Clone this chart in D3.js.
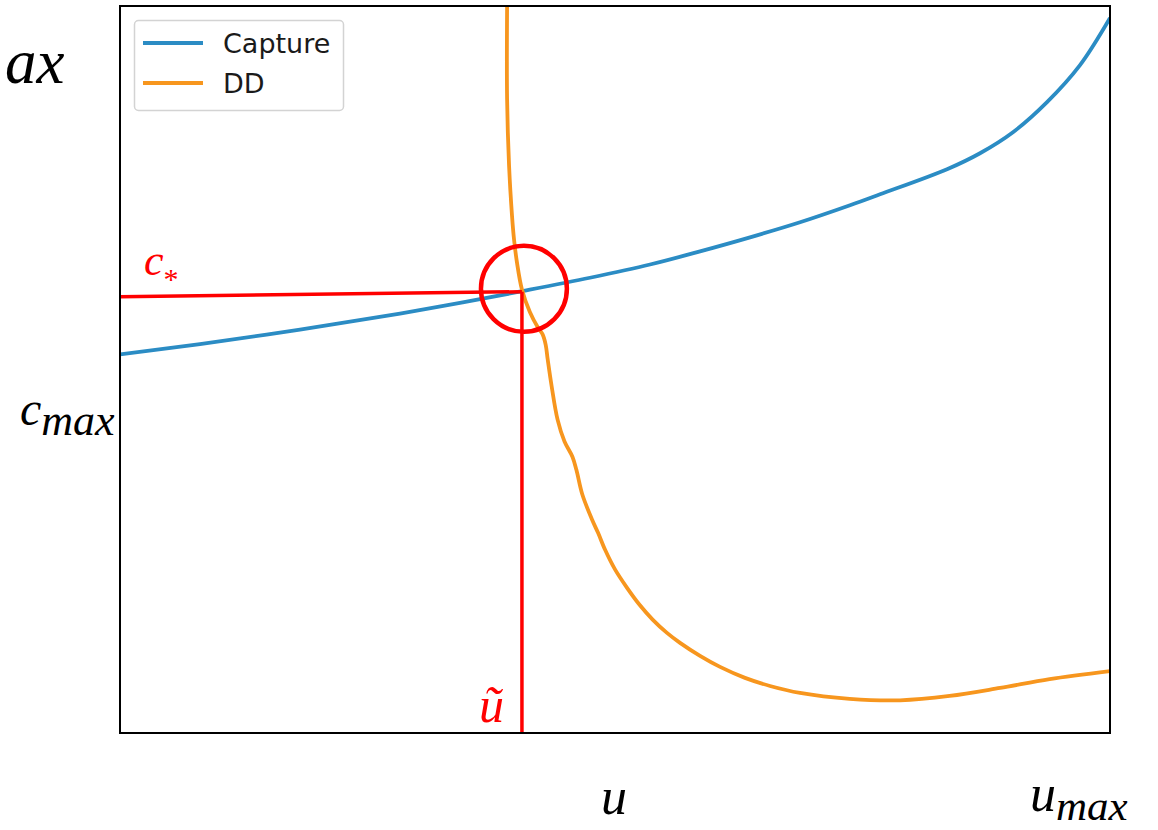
<!DOCTYPE html>
<html>
<head>
<meta charset="utf-8">
<script src="https://cdn.jsdelivr.net/npm/d3@7"></script>
<style>
  html, body { margin: 0; padding: 0; background: #fff; }
  svg { display: block; }
</style>
</head>
<body>
<svg id="chart" width="1158" height="830"></svg>
<script>
// Capture curve: capture cost c against effort u (normalised units)
const captureU = [0, 0.0808, 0.1818, 0.2828, 0.3434, 0.4061, 0.4747, 0.5354, 0.5859, 0.6364, 0.6869, 0.7374, 0.7677, 0.8354, 0.8687, 0.9020, 0.9364, 0.9697, 1.0];
const captureC = [0.5207, 0.5350, 0.5550, 0.5770, 0.5915, 0.6077, 0.6262, 0.6444, 0.6625, 0.6818, 0.7025, 0.7259, 0.7410, 0.7755, 0.7975, 0.8264, 0.8678, 0.9187, 0.9835];

// DD curve
const ddU = [0.391, 0.391, 0.393, 0.396, 0.398, 0.401, 0.406, 0.414, 0.422, 0.427, 0.430, 0.432, 0.436, 0.442, 0.449, 0.457, 0.461, 0.467, 0.477, 0.483, 0.490, 0.500, 0.512, 0.525, 0.538, 0.5525, 0.5657, 0.5859, 0.6061, 0.6313, 0.6566, 0.6869, 0.737, 0.788, 0.838, 0.889, 0.939, 1.0];
const ddC = [1.0, 0.872, 0.780, 0.711, 0.679, 0.647, 0.610, 0.579, 0.558, 0.548, 0.534, 0.514, 0.477, 0.431, 0.401, 0.380, 0.362, 0.328, 0.293, 0.275, 0.252, 0.225, 0.200, 0.176, 0.156, 0.1377, 0.1240, 0.1061, 0.0909, 0.0758, 0.0647, 0.0551, 0.047, 0.045, 0.051, 0.062, 0.074, 0.085];

// Crossing point (u~, c*) and the guide that runs from the c axis to it
const uTilde = 0.406;
const cStar = 0.607;
const cStarStart = 0.600;
const circleCentre = [0.408, 0.611];
const circleRadiusU = 0.0434;

const seriesNames = ["Capture", "DD"];
const seriesColors = ["#2b8cc4", "#f7961e"];

const svg = d3.select("#chart");
const plot = { left: 120, right: 1110, top: 6, bottom: 733 };

const x = d3.scaleLinear().domain([0, 1]).range([plot.left, plot.right]);
const y = d3.scaleLinear().domain([0, 1]).range([plot.bottom, plot.top]);

const line = d3.line()
  .x(d => x(d[0]))
  .y(d => y(d[1]))
  .curve(d3.curveCatmullRom.alpha(0.5));

const captureData = captureU.map((u, i) => [u, captureC[i]]);
const ddData = ddU.map((u, i) => [u, ddC[i]]);

svg.append("defs").append("clipPath").attr("id", "plot-clip")
  .append("rect")
  .attr("x", plot.left).attr("y", plot.top)
  .attr("width", plot.right - plot.left).attr("height", plot.bottom - plot.top);

const g = svg.append("g").attr("clip-path", "url(#plot-clip)");

g.append("path").datum(captureData)
  .attr("d", line)
  .attr("fill", "none")
  .attr("stroke", seriesColors[0])
  .attr("stroke-width", 3.8);

g.append("path").datum(ddData)
  .attr("d", line)
  .attr("fill", "none")
  .attr("stroke", seriesColors[1])
  .attr("stroke-width", 3.8);

// Red guides to the crossing point
g.append("line")
  .attr("x1", x(0)).attr("y1", y(cStarStart))
  .attr("x2", x(uTilde)).attr("y2", y(cStar))
  .attr("stroke", "#ff0000").attr("stroke-width", 3.5);

g.append("line")
  .attr("x1", x(uTilde)).attr("y1", y(cStar))
  .attr("x2", x(uTilde)).attr("y2", y(0))
  .attr("stroke", "#ff0000").attr("stroke-width", 3.5);

g.append("circle")
  .attr("cx", x(circleCentre[0])).attr("cy", y(circleCentre[1]))
  .attr("r", x(circleRadiusU) - x(0))
  .attr("fill", "none")
  .attr("stroke", "#ff0000").attr("stroke-width", 4.5);

// Frame
svg.append("rect")
  .attr("x", plot.left).attr("y", plot.top)
  .attr("width", plot.right - plot.left).attr("height", plot.bottom - plot.top)
  .attr("fill", "none").attr("stroke", "#000").attr("stroke-width", 2);

// Legend
const legend = svg.append("g");
legend.append("rect")
  .attr("x", 134.5).attr("y", 20.5).attr("width", 209).attr("height", 90).attr("rx", 4)
  .attr("fill", "#fff").attr("fill-opacity", 0.8)
  .attr("stroke", "#d3d3d3").attr("stroke-width", 1.5);
seriesNames.forEach((name, i) => {
  const ly = 43 + i * 40;
  legend.append("line")
    .attr("x1", 143).attr("x2", 203).attr("y1", ly).attr("y2", ly)
    .attr("stroke", seriesColors[i]).attr("stroke-width", 3.8);
  legend.append("text")
    .attr("x", 223).attr("y", ly + 10)
    .attr("font-family", "DejaVu Sans")
    .attr("font-size", 27)
    .attr("fill", "#1a1a1a")
    .text(name);
});

// Math labels
const mathFont = "Liberation Serif";

svg.append("text")
  .attr("x", 5).attr("y", 83)
  .attr("font-family", mathFont).attr("font-style", "italic").attr("font-size", 63)
  .text("ax");

const cmax = svg.append("text")
  .attr("x", 20).attr("y", 425)
  .attr("font-family", mathFont).attr("font-style", "italic").attr("font-size", 48);
cmax.append("tspan").text("c");
cmax.append("tspan").attr("dy", 10).attr("font-size", 44).text("max");

svg.append("text")
  .attr("x", 601).attr("y", 814)
  .attr("font-family", mathFont).attr("font-style", "italic").attr("font-size", 52)
  .text("u");

const umax = svg.append("text")
  .attr("x", 1030).attr("y", 811)
  .attr("font-family", mathFont).attr("font-style", "italic").attr("font-size", 52);
umax.append("tspan").text("u");
umax.append("tspan").attr("dy", 9).attr("font-size", 43).text("max");

const cs = svg.append("text")
  .attr("x", 144).attr("y", 275)
  .attr("font-family", mathFont).attr("font-style", "italic").attr("font-size", 44)
  .attr("fill", "#ff0000");
cs.append("tspan").text("c");
cs.append("tspan").attr("dy", 14).attr("font-size", 30).attr("font-style", "normal").text("*");

svg.append("text")
  .attr("x", 479).attr("y", 722)
  .attr("font-family", mathFont).attr("font-style", "italic").attr("font-size", 50)
  .attr("fill", "#ff0000")
  .text("\u0169");
</script>
</body>
</html>
